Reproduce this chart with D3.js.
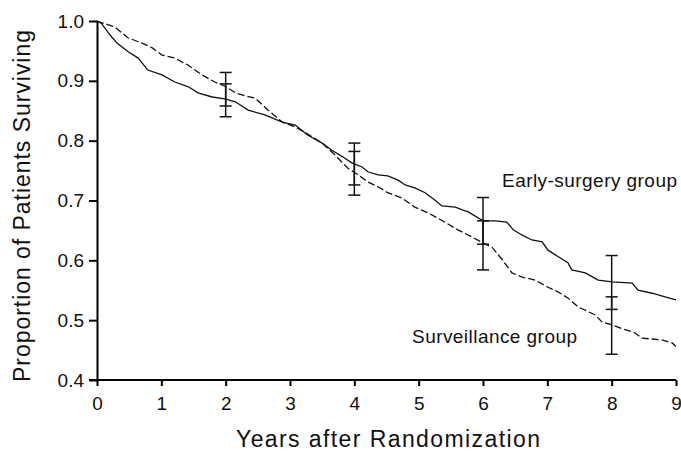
<!DOCTYPE html>
<html>
<head>
<meta charset="utf-8">
<script src="https://cdn.jsdelivr.net/npm/d3@7"></script>
<style>
  html, body { margin: 0; padding: 0; background: #fff; }
  svg { display: block; font-family: "Liberation Sans", Arial, sans-serif; }
</style>
</head>
<body>
<svg id="chart" width="681" height="451"></svg>
<script>
// ---- Data ----
const xTicks = [0, 1, 2, 3, 4, 5, 6, 7, 8, 9];
const yTicks = [0.4, 0.5, 0.6, 0.7, 0.8, 0.9, 1.0];

// Early-surgery group (solid line)
const earlyYears = [0, 0.07, 0.2, 0.31, 0.48, 0.64, 0.79, 1.01, 1.21, 1.42, 1.57, 1.79, 1.99, 2.15, 2.35, 2.61, 2.88, 3.08, 3.28, 3.5, 3.65, 3.82, 3.96, 4.12, 4.21, 4.37, 4.52, 4.68, 4.79, 4.94, 5.1, 5.25, 5.36, 5.57, 5.69, 5.77, 6.0, 6.19, 6.37, 6.47, 6.61, 6.76, 6.92, 7.01, 7.17, 7.32, 7.38, 7.59, 7.79, 8.01, 8.32, 8.41, 8.63, 8.83, 9.0];
const earlySurv = [1.0, 0.996, 0.977, 0.963, 0.949, 0.938, 0.918, 0.91, 0.898, 0.89, 0.88, 0.873, 0.87, 0.865, 0.851, 0.843, 0.831, 0.826, 0.809, 0.796, 0.784, 0.773, 0.763, 0.756, 0.748, 0.743, 0.741, 0.734, 0.726, 0.721, 0.713, 0.701, 0.691, 0.689, 0.684, 0.681, 0.666, 0.666, 0.664, 0.651, 0.642, 0.634, 0.631, 0.617, 0.606, 0.596, 0.584, 0.579, 0.567, 0.564, 0.562, 0.55, 0.545, 0.539, 0.534];

// Surveillance group (dashed line)
const survYears = [0, 0.08, 0.28, 0.48, 0.7, 0.86, 1.01, 1.21, 1.42, 1.63, 1.83, 1.99, 2.15, 2.3, 2.46, 2.66, 2.88, 3.08, 3.23, 3.5, 3.7, 3.9, 4.06, 4.21, 4.37, 4.52, 4.74, 4.94, 5.15, 5.29, 5.61, 5.83, 6.0, 6.14, 6.3, 6.45, 6.61, 6.81, 7.01, 7.17, 7.32, 7.48, 7.74, 7.85, 8.01, 8.21, 8.36, 8.47, 8.78, 8.94, 9.0];
const survSurv = [1.0, 0.997, 0.99, 0.972, 0.963, 0.955, 0.943, 0.938, 0.926, 0.91, 0.898, 0.891, 0.88, 0.875, 0.871, 0.851, 0.831, 0.823, 0.814, 0.796, 0.776, 0.754, 0.743, 0.731, 0.723, 0.713, 0.704, 0.689, 0.679, 0.671, 0.651, 0.639, 0.629, 0.622, 0.601, 0.579, 0.572, 0.567, 0.555, 0.547, 0.537, 0.522, 0.509, 0.497, 0.492, 0.484, 0.479, 0.47, 0.467, 0.462, 0.456];

// Confidence intervals
const ciYears = [2, 4, 6, 8];
const earlyLow = [0.840, 0.726, 0.627, 0.518];
const earlyHigh = [0.895, 0.796, 0.705, 0.608];
const survLow = [0.858, 0.709, 0.584, 0.443];
const survHigh = [0.914, 0.782, 0.666, 0.539];

const labels = ["Early-surgery group", "Surveillance group"];
const xTitle = "Years after Randomization";
const yTitle = "Proportion of Patients Surviving";

// ---- Drawing ----
const FONT = '"Liberation Sans", Arial, sans-serif';
const svg = d3.select("#chart");
const x = d3.scaleLinear().domain([0, 9]).range([97, 676]);
const y = d3.scaleLinear().domain([0.4, 1.0]).range([380, 21]);

const yAxis = d3.axisLeft(y).tickValues(yTicks).tickFormat(d3.format(".1f"))
  .tickSize(8).tickSizeOuter(0).tickPadding(5);
const xAxis = d3.axisBottom(x).tickValues(xTicks).tickFormat(d3.format("d"))
  .tickSize(6).tickSizeOuter(0).tickPadding(11);

const gy = svg.append("g").attr("transform", `translate(${x(0)},0)`).call(yAxis);
const gx = svg.append("g").attr("transform", `translate(0,${y(0.4)})`).call(xAxis);
[gx, gy].forEach(g => {
  g.select(".domain").attr("stroke", "#000").attr("stroke-width", 2);
  g.selectAll(".tick line").attr("stroke", "#000").attr("stroke-width", 2);
  g.selectAll(".tick text").attr("fill", "#111").style("font-size", "19px")
    .style("font-family", FONT);
});
gx.select(".domain").attr("d", `M${x(0) - 8},0H${x(9)}`);

// lines
const line = d3.line().x(d => x(d[0])).y(d => y(d[1]));
const earlyData = earlyYears.map((t, i) => [t, earlySurv[i]]);
const survData = survYears.map((t, i) => [t, survSurv[i]]);

svg.append("path").datum(survData).attr("d", line)
  .attr("fill", "none").attr("stroke", "#111").attr("stroke-width", 1.3)
  .attr("stroke-dasharray", "7,3");
svg.append("path").datum(earlyData).attr("d", line)
  .attr("fill", "none").attr("stroke", "#111").attr("stroke-width", 1.3);

// error bars
const capHalf = 6;
function drawBars(lo, hi) {
  const g = svg.append("g").attr("stroke", "#111").attr("stroke-width", 1.5);
  ciYears.forEach((t, i) => {
    const cx = x(t);
    g.append("line").attr("x1", cx).attr("x2", cx).attr("y1", y(lo[i])).attr("y2", y(hi[i]));
    g.append("line").attr("x1", cx - capHalf).attr("x2", cx + capHalf).attr("y1", y(lo[i])).attr("y2", y(lo[i]));
    g.append("line").attr("x1", cx - capHalf).attr("x2", cx + capHalf).attr("y1", y(hi[i])).attr("y2", y(hi[i]));
  });
}
drawBars(earlyLow, earlyHigh);
drawBars(survLow, survHigh);

// group labels
svg.append("text").attr("x", 502).attr("y", 187)
  .attr("textLength", 175).attr("lengthAdjust", "spacing")
  .style("font-size", "19px").style("font-family", FONT).attr("fill", "#111").text(labels[0]);
svg.append("text").attr("x", 412).attr("y", 343)
  .attr("textLength", 165).attr("lengthAdjust", "spacing")
  .style("font-size", "19px").style("font-family", FONT).attr("fill", "#111").text(labels[1]);

// axis titles
svg.append("text").attr("x", 236).attr("y", 447)
  .attr("textLength", 304).attr("lengthAdjust", "spacing")
  .style("font-size", "23px").style("font-family", FONT).attr("fill", "#111").text(xTitle);
svg.append("text").attr("transform", "translate(30,382) rotate(-90)")
  .attr("textLength", 352).attr("lengthAdjust", "spacing")
  .style("font-size", "23px").style("font-family", FONT).attr("fill", "#111").text(yTitle);
</script>
</body>
</html>
